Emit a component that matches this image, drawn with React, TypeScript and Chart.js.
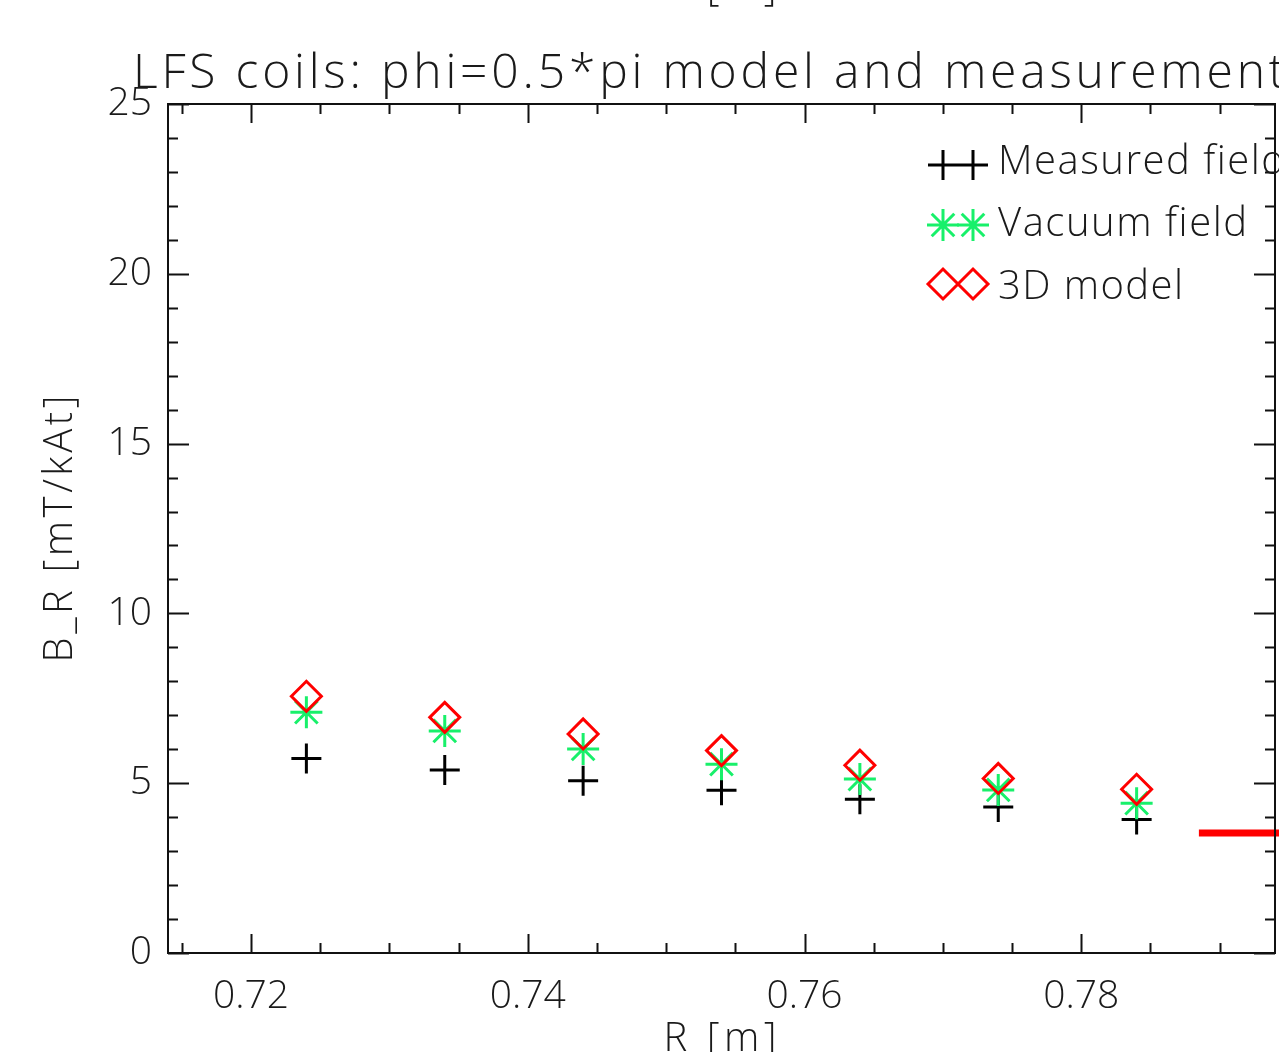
import React, { useEffect, useRef } from 'react';
import { Chart, registerables } from 'chart.js';
import { drawPoint } from 'chart.js/helpers';

Chart.register(...registerables);

// ---- data ----
const R_VALUES = [0.724, 0.734, 0.744, 0.754, 0.764, 0.774, 0.784];
const MEASURED = [5.73, 5.39, 5.07, 4.79, 4.53, 4.3, 3.93];
const VACUUM = [7.09, 6.54, 6.01, 5.56, 5.12, 4.8, 4.41];
const MODEL = [7.56, 6.94, 6.45, 5.96, 5.53, 5.14, 4.82];
const RED_LINE_R = [0.7885, 0.7945];
const RED_LINE_B = [3.53, 3.53];

const X_MAJOR = [0.72, 0.74, 0.76, 0.78];
const X_MINOR = [0.715, 0.72, 0.725, 0.73, 0.735, 0.74, 0.745, 0.75, 0.755, 0.76, 0.765, 0.77, 0.775, 0.78, 0.785, 0.79];
const Y_MAJOR = [0, 5, 10, 15, 20, 25];
const Y_MINOR = [0, 1, 2, 3, 4, 5, 6, 7, 8, 9, 10, 11, 12, 13, 14, 15, 16, 17, 18, 19, 20, 21, 22, 23, 24, 25];

const TITLE = 'LFS coils: phi=0.5*pi model and measurement';
const X_TITLE = 'R [m]';
const Y_TITLE = 'B_R [mT/kAt]';
const LEGEND_LABELS = ['Measured field', 'Vacuum field', '3D model'];

const FONT = '"Open Sans", "DejaVu Sans", sans-serif';
const TEXT = '#1a1a1a';
const GREEN = '#18f06a';
const RED = '#ff0000';

function fitText(ctx: CanvasRenderingContext2D, text: string, x: number, y: number, width: number) {
  (ctx as any).letterSpacing = '0px';
  const w = ctx.measureText(text).width;
  const sp = (width - w) / Math.max(1, text.length - 1);
  (ctx as any).letterSpacing = sp.toFixed(2) + 'px';
  ctx.fillText(text, x, y);
  (ctx as any).letterSpacing = '0px';
}

export default function App() {
  const ref = useRef<HTMLCanvasElement>(null);
  useEffect(() => {
    document.body.style.margin = '0';
    const canvas = ref.current!;
    const idlPlugin = {
      id: 'idlFrame',
      afterDraw(chart: any) {
        const ctx: CanvasRenderingContext2D = chart.ctx;
        const { left, right, top, bottom } = chart.chartArea;
        const xs = chart.scales.x;
        const ys = chart.scales.y;
        ctx.save();
        ctx.strokeStyle = '#111';
        ctx.lineWidth = 2;
        ctx.strokeRect(left, top, right - left, bottom - top);
        ctx.beginPath();
        for (const v of X_MINOR) {
          const px = Math.round(xs.getPixelForValue(v)) + 0.5;
          const len = X_MAJOR.includes(v) ? 19 : 10;
          ctx.moveTo(px, bottom);
          ctx.lineTo(px, bottom - len);
          ctx.moveTo(px, top);
          ctx.lineTo(px, top + len);
        }
        for (const v of Y_MINOR) {
          const py = Math.round(ys.getPixelForValue(v)) + 0.5;
          const len = Y_MAJOR.includes(v) ? 21 : 10;
          ctx.moveTo(left, py);
          ctx.lineTo(left + len, py);
          ctx.moveTo(right, py);
          ctx.lineTo(right - len, py);
        }
        ctx.stroke();

        // texts
        ctx.fillStyle = TEXT;
        ctx.textAlign = 'left';
        ctx.textBaseline = 'alphabetic';
        ctx.font = `300 48px ${FONT}`;
        fitText(ctx, TITLE, 133, 88, 1152);

        ctx.font = `300 40px ${FONT}`;
        const cx = (left + right) / 2;
        fitText(ctx, X_TITLE, cx - 58, 1051, 113);
        fitText(ctx, X_TITLE, cx - 58, 0, 113);

        ctx.save();
        ctx.translate(72, (top + bottom) / 2);
        ctx.rotate(-Math.PI / 2);
        fitText(ctx, Y_TITLE, -134, 0, 267);
        ctx.restore();

        // legend
        const rows = [165, 225, 284];
        const baselines = [174, 236, 299];
        const widths = [287, 249, 185];
        chart.data.datasets.slice(0, 3).forEach((ds: any, i: number) => {
          ctx.strokeStyle = ds.borderColor;
          ctx.fillStyle = 'rgba(0,0,0,0)';
          ctx.lineWidth = ds.pointBorderWidth;
          for (const sx of [943, 973]) {
            drawPoint(ctx, { pointStyle: ds.pointStyle, radius: ds.pointRadius, borderWidth: ds.pointBorderWidth, rotation: 0 } as any, sx, rows[i]);
          }
          ctx.fillStyle = TEXT;
          ctx.font = `300 40px ${FONT}`;
          fitText(ctx, LEGEND_LABELS[i], 998, baselines[i], widths[i]);
        });
        ctx.restore();
      },
    };

    const chart = new Chart(canvas, {
      type: 'scatter',
      data: {
        datasets: [
          {
            label: LEGEND_LABELS[0],
            data: R_VALUES.map((x, i) => ({ x, y: MEASURED[i] })),
            pointStyle: 'cross',
            pointRadius: 15,
            pointBorderWidth: 3,
            borderColor: '#000000',
            backgroundColor: 'rgba(0,0,0,0)',
            order: 3,
          },
          {
            label: LEGEND_LABELS[1],
            data: R_VALUES.map((x, i) => ({ x, y: VACUUM[i] })),
            pointStyle: 'star',
            pointRadius: 16,
            pointBorderWidth: 3,
            borderColor: GREEN,
            backgroundColor: 'rgba(0,0,0,0)',
            order: 2,
          },
          {
            label: LEGEND_LABELS[2],
            data: R_VALUES.map((x, i) => ({ x, y: MODEL[i] })),
            pointStyle: 'rectRot',
            pointRadius: 15,
            pointBorderWidth: 3,
            borderColor: RED,
            backgroundColor: 'rgba(0,0,0,0)',
            order: 1,
          },
          {
            label: 'line',
            data: RED_LINE_R.map((x, i) => ({ x, y: RED_LINE_B[i] })),
            showLine: true,
            borderColor: RED,
            borderWidth: 7,
            pointRadius: 0,
            clip: false as any,
            order: 0,
          },
        ] as any,
      },
      options: {
        animation: false,
        responsive: false,
        devicePixelRatio: 1,
        events: [],
        layout: { autoPadding: false, padding: { left: 0, top: 104, right: 4, bottom: 0 } },
        plugins: { legend: { display: false }, tooltip: { enabled: false }, title: { display: false } },
        scales: {
          x: {
            type: 'linear',
            min: 0.714,
            max: 0.794,
            grid: { display: false },
            border: { display: false },
            afterBuildTicks: (s: any) => {
              s.ticks = X_MAJOR.map((v) => ({ value: v }));
            },
            afterFit: (s: any) => {
              s.height = 99;
              s.paddingLeft = 0;
              s.paddingRight = 0;
            },
            ticks: {
              color: TEXT,
              font: { family: FONT, size: 39, weight: '300' as any },
              padding: 12,
              maxRotation: 0,
              autoSkip: false,
              callback: (v: any) => Number(v).toFixed(2),
            },
          },
          y: {
            type: 'linear',
            min: 0,
            max: 25,
            grid: { display: false },
            border: { display: false },
            afterBuildTicks: (s: any) => {
              s.ticks = Y_MAJOR.map((v) => ({ value: v }));
            },
            afterFit: (s: any) => {
              s.width = 168;
              s.paddingTop = 0;
              s.paddingBottom = 0;
            },
            ticks: {
              color: TEXT,
              font: { family: FONT, size: 39, weight: '300' as any },
              padding: 8,
              autoSkip: false,
              callback: (v: any) => String(v),
            },
          },
        },
      },
      plugins: [idlPlugin],
    });
    return () => chart.destroy();
  }, []);

  return (
    <div style={{ position: 'absolute', left: 0, top: 0, width: 1279, height: 1052, background: '#fff' }}>
      <canvas ref={ref} width={1279} height={1052} style={{ width: 1279, height: 1052, display: 'block' }} />
    </div>
  );
}
